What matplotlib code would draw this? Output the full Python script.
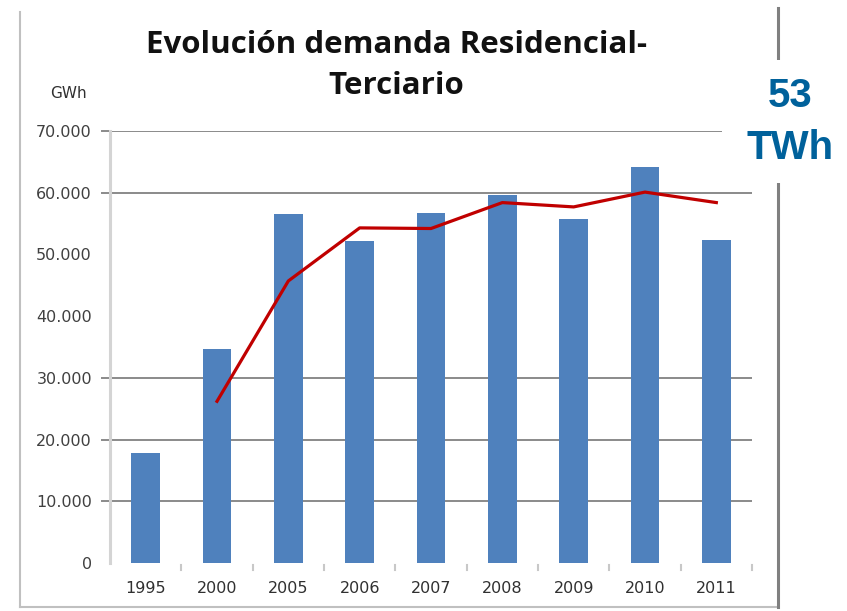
import matplotlib
matplotlib.use("Agg")
import matplotlib.pyplot as plt
from matplotlib.lines import Line2D
from matplotlib.patches import Rectangle

years = ["1995", "2000", "2005", "2006", "2007", "2008", "2009", "2010", "2011"]
demand = [17800, 34700, 56500, 52100, 56700, 59600, 55800, 64200, 52400]
trend_years = ["2000", "2005", "2006", "2007", "2008", "2009", "2010", "2011"]
trend = [26200, 45700, 54300, 54200, 58400, 57700, 60100, 58400]
ytick_vals = [0, 10000, 20000, 30000, 40000, 50000, 60000, 70000]
ytick_labels = ["0", "10.000", "20.000", "30.000", "40.000", "50.000", "60.000", "70.000"]
grid_vals = [10000, 20000, 30000, 60000, 70000]

W, H = 847, 611
fig = plt.figure(figsize=(W / 100, H / 100), dpi=100)
fig.patch.set_facecolor("white")

ax = fig.add_axes([110 / W, 1 - 563 / H, (752 - 110) / W, (563 - 131) / H])
x = list(range(len(years)))
idx = {y: i for i, y in enumerate(years)}
tx = [idx[y] for y in trend_years]

for g in grid_vals:
    ax.axhline(g, color="#8a8a8a", lw=1.4, zorder=0)
    ax.plot([-0.5 - 0.11, -0.5], [g, g], color="#8a8a8a", lw=1.4, clip_on=False, zorder=0)

ax.bar(x, demand, width=0.4, color="#4f81bd", zorder=2)
ax.plot(tx, trend, color="#c00000", lw=2.3, zorder=3, solid_joinstyle="round")

ax.set_xlim(-0.5, len(years) - 0.5)
ax.set_ylim(0, 70000)
for s in ["top", "right", "bottom"]:
    ax.spines[s].set_visible(False)
ax.spines["left"].set_color("#d4d4d4")
ax.spines["left"].set_linewidth(2.2)

ax.set_yticks(ytick_vals)
ax.set_yticklabels(ytick_labels, fontsize=11.5, color="#404040", family="DejaVu Sans")
ax.tick_params(axis="y", length=0, pad=13)

ax.set_xticks(x)
ax.set_xticklabels(years, fontsize=11.5, color="#303030", family="DejaVu Sans")
ax.tick_params(axis="x", length=0, pad=13)
for b in range(1, len(years) + 1):
    ax.plot([b - 0.5, b - 0.5], [-250, -1100], color="#c8c8c8", lw=1.5, clip_on=False)

# outer frame
fig.add_artist(Line2D([20 / W, 20 / W], [1 - 607 / H, 1 - 12 / H], color="#c0c0c0", lw=1.5))
fig.add_artist(Line2D([20 / W, 778 / W], [1 - 607 / H, 1 - 607 / H], color="#c0c0c0", lw=1.5))
fig.add_artist(Line2D([778 / W, 778 / W], [1 - 607 / H, 1 - 8 / H], color="#808080", lw=2.2))

fig.text(396 / W, 1 - 45 / H, "Evolución demanda Residencial-", ha="center", va="center",
         fontsize=22.5, fontweight="bold", family="Open Sans", color="#111111")
fig.text(396 / W, 1 - 86 / H, "Terciario", ha="center", va="center",
         fontsize=22.5, fontweight="bold", family="Open Sans", color="#111111")
fig.text(68 / W, 1 - 93 / H, "GWh", ha="center", va="center", fontsize=11,
         family="DejaVu Sans", color="#303030")

fig.add_artist(Rectangle((722 / W, 1 - 183 / H), (847 - 722) / W, (183 - 60) / H,
                         facecolor="white", edgecolor="none", zorder=5))
fig.text(790 / W, 1 - 96 / H, "53", ha="center", va="center", fontsize=29,
         fontweight="bold", family="Liberation Sans", color="#00619b", zorder=6)
fig.text(790 / W, 1 - 148 / H, "TWh", ha="center", va="center", fontsize=29,
         fontweight="bold", family="Liberation Sans", color="#00619b", zorder=6)

fig.savefig("out.png", dpi=100, facecolor="white")
